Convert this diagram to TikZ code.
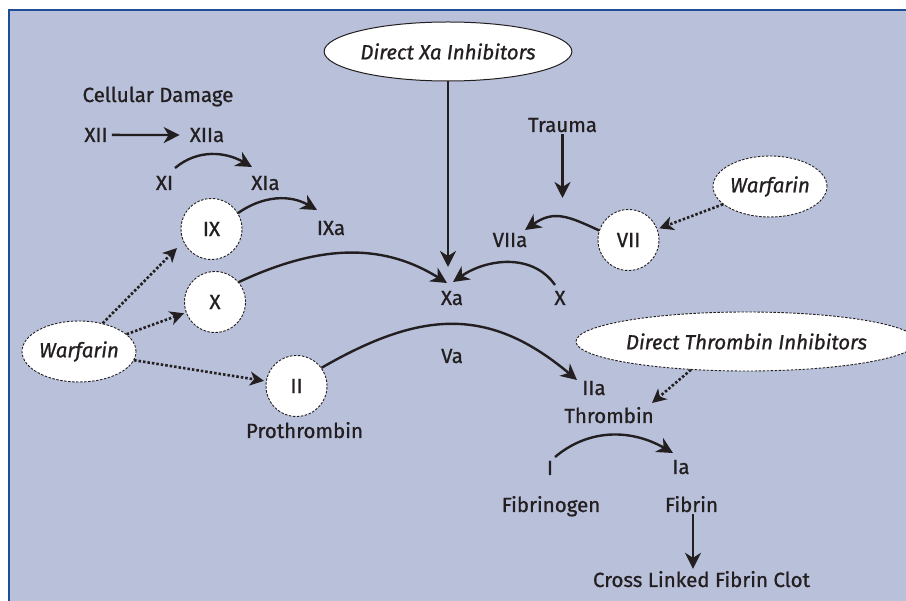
\documentclass[tikz,border=0pt]{standalone}
\usepackage{fontspec}
\setmainfont{Fira Sans}[FakeBold=0.9]
\usetikzlibrary{arrows.meta,shapes.geometric}
\definecolor{bg}{HTML}{B8C0DA}
\definecolor{frame}{HTML}{1F4E96}
\definecolor{ink}{HTML}{231F20}
\tikzset{
  lbl/.style={anchor=base, inner sep=2pt, text=ink, font=\fontsize{20.5}{24}\selectfont},
  factor/.style={circle, draw=ink, fill=white, minimum size=61pt, inner sep=0pt,
    line width=0.9pt, dash pattern=on 2.5pt off 1.5pt, text=ink, font=\fontsize{20.5}{24}\selectfont},
  drug/.style={ellipse, draw=ink, fill=white, inner sep=0pt, line width=0.9pt,
    dash pattern=on 2.5pt off 1.5pt, text=ink, font=\fontsize{20.5}{24}\selectfont\itshape},
  xadrug/.style={drug, solid, line width=1pt},
  arr/.style={draw=ink, line width=2.4pt, -{Stealth[length=16pt,width=16pt,inset=5pt]}},
  inh/.style={draw=ink, line width=2.6pt, dash pattern=on 2.5pt off 2pt,
    -{Stealth[length=14pt,width=14pt,inset=4pt]}},
}
\begin{document}
\begin{tikzpicture}[x=1pt,y=1pt]
\useasboundingbox (0,0) rectangle (906,-601);
\fill[bg] (9,-10) rectangle (906,-601);
\draw[frame, line width=1.3pt] (9,-601) -- (9,-10) -- (906,-10);

% nodes
\node[lbl] (cd) at (158,-102) {Cellular Damage};
\node[lbl] (xii) at (96,-142) {XII};
\node[lbl] (xiia) at (207,-142) {XIIa};
\node[lbl] (xi) at (164.5,-190) {XI};
\node[lbl] (xia) at (265.5,-190) {XIa};
\node[factor] (ix) at (211.5,-229) {IX};
\node[lbl] (ixa) at (331,-235) {IXa};
\node[factor] (xc) at (215,-302) {X};
\node[lbl] (xa) at (452,-305) {Xa};
\node[lbl] (xr) at (560,-305) {X};
\node[xadrug, minimum width=231pt, minimum height=59pt] (dxa) at (448,-51.5) {Direct Xa Inhibitors};
\node[lbl] (trauma) at (562.5,-132) {Trauma};
\coordinate (tr) at (562.5,-198);
\node[lbl] (viia) at (510,-247) {VIIa};
\node[factor] (vii) at (628.5,-240) {VII};
\node[drug, minimum width=114pt, minimum height=61pt] (wr) at (770,-186.5) {Warfarin};
\node[drug, minimum width=114pt, minimum height=61pt] (wl) at (79,-351.5) {Warfarin};
\node[factor] (ii) at (296.5,-386) {II};
\node[lbl] (proth) at (304.5,-438) {Prothrombin};
\node[lbl] (va) at (452,-363) {Va};
\node[lbl] (iia) at (594,-395) {IIa};
\node[lbl] (thr) at (609,-423) {Thrombin};
\node[drug, minimum width=311pt, minimum height=59pt] (dti) at (746.5,-341.5) {Direct Thrombin Inhibitors};
\node[lbl] (fI) at (550,-475) {I};
\node[lbl] (ia) at (681,-474) {Ia};
\node[lbl] (fbg) at (551,-512) {Fibrinogen};
\node[lbl] (fb) at (691.5,-512) {Fibrin};
\node[lbl] (clot) at (701.5,-587) {Cross Linked Fibrin Clot};

% connectors
\draw[arr, shorten <=2pt, shorten >=8pt] (xii.east) -- (xiia.west);
\draw[arr] ([shift={(10.5,22)}]xi.base) to[out=40,in=150] ([shift={(-13.5,23)}]xia.base);
\draw[arr] (ix.31) to[out=35,in=150] ([shift={(-14,25)}]ixa.base);
\draw[arr] (xc.40) to[out=25,in=148] ([shift={(-5,22)}]xa.base);
\draw[arr] ([shift={(-5,20)}]xr.base) to[out=125,in=35] ([shift={(1,23)}]xa.base);
\draw[arr] (dxa) -- ([shift={(-4,38)}]xa.base);
\draw[arr] (trauma.south) -- (tr);
\draw[arr] (vii.162) to[out=155,in=35,looseness=1.2] ([shift={(15,17)}]viia.base);
\draw[inh, shorten >=2pt] (wr) -- (vii);
\draw[inh] (wl.50) -- ([shift={(-34.5,-19)}]ix.center);
\draw[inh, shorten >=2pt] (wl) -- (xc);
\draw[inh, shorten >=2pt] (wl) -- (ii);
\draw[arr] (ii.36) to[out=30,in=140,looseness=1.15] ([shift={(-17,15)}]iia.base);
\draw[inh] (dti.207) -- ([shift={(43,20)}]thr.base);
\draw[arr] ([shift={(5,18)}]fI.base) to[out=40,in=150] ([shift={(-8,21)}]ia.base);
\draw[arr] ([xshift=1.5pt]fb.south) -- ([xshift=1.5pt]fb.south |- clot.north);
\end{tikzpicture}
\end{document}
